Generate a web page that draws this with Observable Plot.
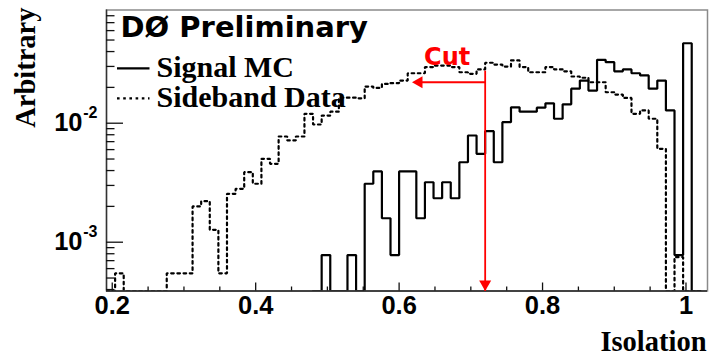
<!DOCTYPE html>
<html>
<head>
<meta charset="utf-8">
<script src="https://cdn.jsdelivr.net/npm/d3@7"></script>
<script src="https://cdn.jsdelivr.net/npm/@observablehq/plot@0.6"></script>
<style>
  html, body { margin: 0; padding: 0; background: #fff; }
  svg { display: block; }
</style>
</head>
<body>
<div id="chart"></div>
<script>
// Histogram binning (Isolation), bins of fixed width
const BIN = 0.012;

// Signal MC: bin contents starting at the bin whose lower edge is SIGNAL_START
const SIGNAL_START = 0.480;
const signalValues = [
  0, 7.8e-4, 0, 0, 7.8e-4, 0,
  3.10e-3, 3.93e-3, 1.59e-3, 7.8e-4, 3.93e-3, 3.93e-3, 1.59e-3, 3.19e-3,
  2.34e-3, 3.19e-3, 2.34e-3, 4.70e-3, 7.88e-3, 5.53e-3, 8.57e-3, 4.70e-3,
  1.02e-2, 1.36e-2, 1.25e-2, 1.25e-2, 1.35e-2, 1.47e-2, 1.09e-2, 1.44e-2,
  1.95e-2, 2.28e-2, 1.88e-2, 3.41e-2, 3.26e-2, 2.73e-2, 2.83e-2, 2.63e-2,
  2.52e-2, 1.95e-2, 2.28e-2, 1.28e-2, 7.8e-4, 4.70e-2, 0
];

// Sideband data: bin contents starting at SIDEBAND_START
const SIDEBAND_START = 0.192;
const sidebandValues = [
  0, 5.48e-4, 0, 0, 0, 0, 0, 5.48e-4, 5.48e-4, 5.48e-4,
  2.0e-3, 2.21e-3, 1.27e-3, 5.48e-4, 2.55e-3, 2.81e-3, 3.88e-3, 3.10e-3,
  5.02e-3, 4.56e-3, 7.73e-3, 7.16e-3, 7.73e-3, 1.20e-2, 9.75e-3, 1.16e-2,
  1.25e-2, 1.64e-2, 1.64e-2, 1.62e-2, 2.03e-2, 1.98e-2, 2.14e-2, 2.17e-2,
  2.28e-2, 2.63e-2, 2.63e-2, 2.96e-2, 3.05e-2, 3.05e-2, 2.96e-2, 2.68e-2,
  2.60e-2, 2.83e-2, 3.22e-2, 3.11e-2, 2.99e-2, 3.37e-2, 2.96e-2, 2.68e-2,
  2.68e-2, 2.96e-2, 2.83e-2, 2.73e-2, 2.47e-2, 2.41e-2, 2.21e-2, 2.21e-2,
  1.82e-2, 1.74e-2, 1.63e-2, 1.20e-2, 1.28e-2, 1.09e-2, 6.09e-3,
  0, 7.5e-4, 0, 0
];

// Axis ranges and ticks
const X_MIN = 0.192, X_MAX = 1.03;
const Y_MIN = 3.89e-4, Y_MAX = 0.0894;
const xMajorTicks = [0.2, 0.4, 0.6, 0.8, 1.0];
const xTickLabels = ["0.2", "0.4", "0.6", "0.8", "1"];
const xMinorTicks = [0.25, 0.3, 0.35, 0.45, 0.5, 0.55, 0.65, 0.7, 0.75, 0.85, 0.9, 0.95];
const yMajorTicks = [1e-3, 1e-2];
const yTickExponents = ["-3", "-2"];
const yMinorTicks = [4e-4, 5e-4, 6e-4, 7e-4, 8e-4, 9e-4,
  2e-3, 3e-3, 4e-3, 5e-3, 6e-3, 7e-3, 8e-3, 9e-3,
  2e-2, 3e-2, 4e-2, 5e-2, 6e-2, 7e-2, 8e-2];

// Cut annotation
const CUT_X = 0.72;
const CUT_TOP = 0.0277;
const CUT_ARROW_Y = 0.0221;
const CUT_ARROW_END = 0.618;
const CUT_LABEL = {x: 0.667, y: 0.031, text: "Cut"};

// Step outline of a histogram; empty bins sit on the bottom of the frame
function stepPoints(start, values) {
  const pts = [];
  values.forEach((v, i) => {
    const lo = start + i * BIN, hi = lo + BIN;
    const y = v > 0 ? v : Y_MIN;
    pts.push({x: lo, y}, {x: hi, y});
  });
  pts.unshift({x: start, y: Y_MIN});
  pts.push({x: start + values.length * BIN, y: Y_MIN});
  return pts;
}

// Filled arrowheads with the tip at the origin
const headDown = {draw(ctx) { ctx.moveTo(0, 0); ctx.lineTo(-6, -10.5); ctx.lineTo(6, -10.5); ctx.closePath(); }};
const headLeft = {draw(ctx) { ctx.moveTo(0, 0); ctx.lineTo(10.5, -6); ctx.lineTo(10.5, 6); ctx.closePath(); }};

const W = 710, H = 357;
const M = {left: 106, right: 3, top: 9.5, bottom: 66.5};
const frameW = W - M.left - M.right;
const frameH = H - M.top - M.bottom;

const sans = "'Liberation Sans', Arial, sans-serif";
const serif = "'Liberation Serif', 'Times New Roman', serif";
const DASH = "2.6,3.6";

const chart = Plot.plot({
  width: W,
  height: H,
  marginLeft: M.left,
  marginRight: M.right,
  marginTop: M.top,
  marginBottom: M.bottom,
  style: {background: "#fff", overflow: "visible", fontFamily: sans},
  x: {domain: [X_MIN, X_MAX], axis: null},
  y: {type: "log", domain: [Y_MIN, Y_MAX], axis: null},
  marks: [
    Plot.frame({stroke: "#8a8a8a", strokeWidth: 1.5}),

    // histograms
    Plot.line(stepPoints(SIGNAL_START, signalValues), {
      x: "x", y: "y", stroke: "#000", strokeWidth: 2.2,
      strokeLinejoin: "miter", clip: true
    }),
    Plot.line(stepPoints(SIDEBAND_START, sidebandValues), {
      x: "x", y: "y", stroke: "#000", strokeWidth: 2.2,
      strokeDasharray: DASH, strokeLinejoin: "miter", clip: true
    }),

    // axis lines
    Plot.ruleY([Y_MIN], {stroke: "#222", strokeWidth: 1.6}),
    Plot.ruleX([X_MIN], {stroke: "#333", strokeWidth: 1.4}),

    // inward tick marks
    Plot.tickX(xMajorTicks, {x: d => d, insetTop: frameH - 8, stroke: "#111", strokeWidth: 1.3}),
    Plot.tickX(xMinorTicks, {x: d => d, insetTop: frameH - 4, stroke: "#111", strokeWidth: 1.3}),
    Plot.tickY(yMajorTicks, {y: d => d, insetRight: frameW - 17, stroke: "#111", strokeWidth: 1.3}),
    Plot.tickY(yMinorTicks, {y: d => d, insetRight: frameW - 8.5, stroke: "#111", strokeWidth: 1.3}),

    // tick labels
    Plot.text(xMajorTicks, {
      x: d => d, text: (d, i) => xTickLabels[i], frameAnchor: "bottom",
      lineAnchor: "top", dy: 4.5, fontSize: 25.5, fontWeight: "bold", fontFamily: sans, fill: "#000"
    }),
    Plot.text(yMajorTicks, {
      y: d => d, text: () => "10", frameAnchor: "left", textAnchor: "end",
      lineAnchor: "middle", dx: -24, fontSize: 25.5, fontWeight: "bold", fontFamily: sans, fill: "#000"
    }),
    Plot.text(yMajorTicks, {
      y: d => d, text: (d, i) => yTickExponents[i], frameAnchor: "left", textAnchor: "end",
      lineAnchor: "middle", dx: -9, dy: -10, fontSize: 16, fontWeight: "bold", fontFamily: sans, fill: "#000"
    }),

    // axis titles
    Plot.text(["Isolation"], {
      frameAnchor: "bottom-right", textAnchor: "end", lineAnchor: "bottom",
      dx: -1, dy: 59.5, fontSize: 28.5, fontWeight: "bold", fontFamily: serif, fill: "#000"
    }),
    Plot.text(["Arbitrary"], {
      frameAnchor: "top-left", textAnchor: "end", lineAnchor: "bottom", rotate: -90,
      dx: -72, dy: -2.5, fontSize: 28.5, fontWeight: "bold", fontFamily: serif, fill: "#000"
    }),

    // title and legend labels
    Plot.text(["DØ Preliminary"], {
      frameAnchor: "top-left", textAnchor: "start", lineAnchor: "bottom",
      dx: 14, dy: 26.5, fontSize: 29, fontWeight: "bold", fontFamily: "'DejaVu Sans', sans-serif", fill: "#000"
    }),
    Plot.text(["Signal MC"], {
      frameAnchor: "top-left", textAnchor: "start", lineAnchor: "bottom",
      dx: 50, dy: 66.5, fontSize: 30, fontWeight: "bold", fontFamily: serif, fill: "#000"
    }),
    Plot.text(["Sideband Data"], {
      frameAnchor: "top-left", textAnchor: "start", lineAnchor: "bottom",
      dx: 50, dy: 96.5, fontSize: 30, fontWeight: "bold", fontFamily: serif, fill: "#000"
    }),

    // cut arrow
    Plot.link([{x1: CUT_X, y1: CUT_TOP, x2: CUT_X, y2: Y_MIN}], {
      x1: "x1", y1: "y1", x2: "x2", y2: "y2", stroke: "#ff0000", strokeWidth: 1.8
    }),
    Plot.link([{x1: CUT_X, y1: CUT_ARROW_Y, x2: CUT_ARROW_END + 0.01, y2: CUT_ARROW_Y}], {
      x1: "x1", y1: "y1", x2: "x2", y2: "y2", stroke: "#ff0000", strokeWidth: 1.8
    }),
    Plot.dot([{x: CUT_X, y: Y_MIN}], {x: "x", y: "y", symbol: headDown, fill: "#ff0000", stroke: "none"}),
    Plot.dot([{x: CUT_ARROW_END, y: CUT_ARROW_Y}], {x: "x", y: "y", symbol: headLeft, fill: "#ff0000", stroke: "none"}),
    Plot.text([CUT_LABEL], {
      x: "x", y: "y", text: "text", textAnchor: "middle", lineAnchor: "bottom",
      fontSize: 24, fontWeight: "bold", fontFamily: "'DejaVu Sans', sans-serif", fill: "#ff0000"
    })
  ]
});

// legend line samples next to the legend labels
const svg = d3.select(chart);
const legend = svg.append("g").attr("class", "legend-samples").attr("stroke", "#000").attr("stroke-width", 2.2);
legend.append("line").attr("x1", 117).attr("x2", 149.5).attr("y1", 68.3).attr("y2", 68.3);
legend.append("line").attr("x1", 117).attr("x2", 149.5).attr("y1", 98.3).attr("y2", 98.3)
  .attr("stroke-dasharray", DASH);

document.getElementById("chart").appendChild(chart);
</script>
</body>
</html>
